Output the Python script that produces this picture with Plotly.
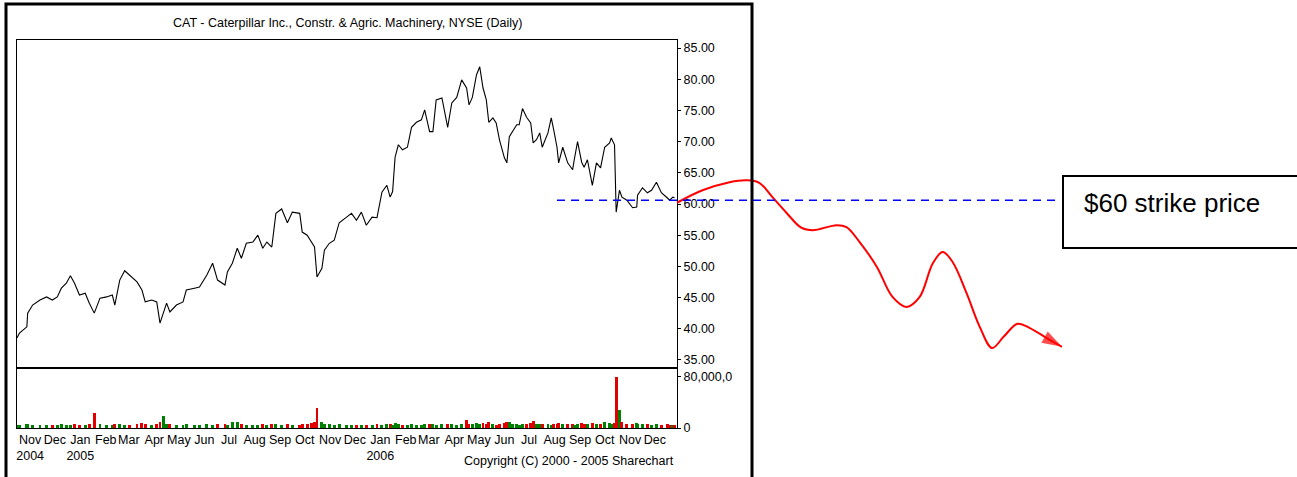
import pandas as pd
import plotly.graph_objects as go

# ---------------- data ----------------
TITLE = "CAT - Caterpillar Inc., Constr. & Agric. Machinery, NYSE (Daily)"
COPYRIGHT = "Copyright (C) 2000 - 2005 Sharechart"
STRIKE_LABEL = "$60 strike price"

dates = [
    "2004-10-26", "2004-10-29", "2004-11-07", "2004-11-08", "2004-11-14", "2004-11-23", "2004-12-01", "2004-12-08", "2004-12-14", "2004-12-19",
    "2004-12-25", "2004-12-30", "2005-01-04", "2005-01-10", "2005-01-17", "2005-01-22", "2005-01-28", "2005-02-04", "2005-02-12", "2005-02-19",
    "2005-02-22", "2005-02-28", "2005-03-06", "2005-03-12", "2005-03-21", "2005-03-27", "2005-03-31", "2005-04-08", "2005-04-14", "2005-04-18",
    "2005-04-22", "2005-04-26", "2005-04-30", "2005-05-08", "2005-05-16", "2005-05-20", "2005-05-30", "2005-06-05", "2005-06-14", "2005-06-21",
    "2005-06-27", "2005-07-06", "2005-07-09", "2005-07-15", "2005-07-21", "2005-07-26", "2005-08-01", "2005-08-09", "2005-08-15", "2005-08-21",
    "2005-08-26", "2005-09-01", "2005-09-06", "2005-09-13", "2005-09-20", "2005-09-26", "2005-10-05", "2005-10-08", "2005-10-14", "2005-10-19",
    "2005-10-23", "2005-10-26", "2005-11-01", "2005-11-04", "2005-11-10", "2005-11-16", "2005-11-22", "2005-12-01", "2005-12-07", "2005-12-13",
    "2005-12-19", "2005-12-25", "2006-01-01", "2006-01-07", "2006-01-13", "2006-01-19", "2006-01-23", "2006-01-26", "2006-01-29", "2006-02-02",
    "2006-02-07", "2006-02-13", "2006-02-18", "2006-02-24", "2006-03-02", "2006-03-06", "2006-03-12", "2006-03-16", "2006-03-20", "2006-03-27",
    "2006-04-03", "2006-04-08", "2006-04-14", "2006-04-20", "2006-04-26", "2006-04-29", "2006-05-03", "2006-05-08", "2006-05-12", "2006-05-16",
    "2006-05-20", "2006-05-23", "2006-05-28", "2006-06-01", "2006-06-05", "2006-06-11", "2006-06-14", "2006-06-17", "2006-06-21", "2006-06-26",
    "2006-06-29", "2006-07-03", "2006-07-08", "2006-07-13", "2006-07-16", "2006-07-20", "2006-07-24", "2006-07-27", "2006-08-03", "2006-08-07",
    "2006-08-10", "2006-08-14", "2006-08-16", "2006-08-21", "2006-08-27", "2006-09-02", "2006-09-04", "2006-09-08", "2006-09-13", "2006-09-16",
    "2006-09-20", "2006-09-26", "2006-10-01", "2006-10-06", "2006-10-11", "2006-10-17", "2006-10-19", "2006-10-23", "2006-10-25", "2006-10-29",
    "2006-11-01", "2006-11-07", "2006-11-14", "2006-11-19", "2006-11-20", "2006-11-26", "2006-12-02", "2006-12-07", "2006-12-13", "2006-12-19",
    "2006-12-26", "2006-12-29", "2007-01-02", "2007-01-04",
]

close = [
    38.5, 39.3, 40.3, 42.5, 43.8, 44.6, 45.1, 44.6, 45.1, 46.5,
    47.3, 48.5, 47.3, 45.4, 45.7, 44.1, 42.5, 44.9, 45.1, 45.4,
    43.8, 47.8, 49.3, 48.6, 47.5, 46.2, 44.3, 44.6, 44.3, 40.9,
    42.5, 44.1, 42.7, 43.8, 44.3, 46.2, 46.5, 46.7, 48.6, 50.5,
    47.8, 47.0, 49.1, 50.5, 52.9, 51.3, 53.7, 53.9, 55.0, 52.9,
    53.9, 53.1, 58.5, 59.2, 57.0, 58.7, 58.5, 55.5, 55.0, 53.9,
    53.1, 48.3, 49.7, 52.6, 53.7, 54.2, 57.0, 57.9, 58.5, 57.4,
    58.7, 56.6, 57.9, 57.8, 61.9, 63.0, 61.1, 62.0, 67.5, 69.5,
    68.7, 69.1, 72.3, 73.1, 73.5, 75.1, 71.6, 71.6, 76.7, 77.0,
    72.3, 76.2, 77.1, 79.9, 78.6, 75.9, 77.1, 80.7, 82.0, 78.6,
    76.7, 73.1, 73.8, 73.0, 70.3, 67.4, 66.6, 70.8, 71.6, 72.7,
    72.7, 75.3, 73.9, 73.0, 69.8, 70.3, 71.4, 69.1, 71.4, 73.8,
    71.9, 69.1, 66.6, 69.1, 66.6, 65.5, 67.1, 70.0, 66.7, 65.9,
    67.1, 63.0, 66.6, 65.8, 69.1, 69.8, 70.6, 69.5, 58.7, 62.2,
    61.1, 60.6, 59.4, 59.5, 61.4, 62.6, 61.8, 62.2, 63.5, 61.8,
    61.0, 60.6, 61.1, 61.0,
]

volume_m = [
    4, 5, 6, 7, 5, 4, 5, 4, 5, 6,
    4, 5, 6, 5, 4, 6, 23, 6, 5, 4,
    6, 7, 5, 4, 6, 8, 7, 5, 6, 9,
    19, 7, 6, 5, 4, 6, 5, 4, 6, 5,
    6, 7, 5, 9, 10, 6, 5, 4, 5, 6,
    5, 6, 7, 5, 6, 4, 5, 6, 7, 8,
    9, 31, 10, 7, 6, 5, 6, 5, 4, 5,
    4, 5, 4, 6, 5, 7, 6, 5, 8, 7,
    5, 4, 6, 5, 5, 6, 7, 6, 5, 6,
    7, 6, 5, 6, 12, 7, 6, 8, 7, 8,
    7, 9, 6, 5, 7, 8, 10, 9, 7, 6,
    5, 6, 7, 8, 11, 7, 6, 7, 6, 5,
    6, 7, 8, 6, 7, 6, 5, 7, 8, 6,
    7, 8, 6, 7, 9, 8, 7, 8, 80, 28,
    9, 7, 6, 8, 7, 6, 7, 5, 6, 5,
    6, 5, 4, 5,
]

# hand-drawn projected path (red) continuing after the last close
proj_dates = [
    "2007-01-07", "2007-02-07", "2007-03-12", "2007-04-02", "2007-04-17", "2007-05-03", "2007-05-20",
    "2007-06-07", "2007-06-21", "2007-07-20", "2007-08-01", "2007-08-17", "2007-09-07", "2007-09-26",
    "2007-10-13", "2007-10-29", "2007-11-14", "2007-11-26", "2007-12-08", "2007-12-25", "2008-01-10",
    "2008-01-25", "2008-02-08", "2008-02-25", "2008-03-11", "2008-04-04", "2008-04-19",
]
proj_price = [
    60.2, 62.2, 63.5, 63.8, 63.4, 61.1, 58.6,
    56.2, 55.8, 56.6, 56.3, 53.9, 49.9, 45.1,
    43.5, 45.1, 50.5, 52.3, 50.7, 45.7, 40.3,
    36.9, 38.7, 40.8, 40.1, 38.2, 37.1,
]

strike_level = 60.6

price_tickvals = [35, 40, 45, 50, 55, 60, 65, 70, 75, 80, 85]
price_ticktext = ["35.00", "40.00", "45.00", "50.00", "55.00", "60.00", "65.00", "70.00", "75.00", "80.00", "85.00"]
vol_tickvals = [0, 80]
vol_ticktext = ["0", "80,000,0"]

month_starts = [
    "2004-11-01", "2004-12-01", "2005-01-01", "2005-02-01", "2005-03-01", "2005-04-01", "2005-05-01",
    "2005-06-01", "2005-07-01", "2005-08-01", "2005-09-01", "2005-10-01", "2005-11-01", "2005-12-01",
    "2006-01-01", "2006-02-01", "2006-03-01", "2006-04-01", "2006-05-01", "2006-06-01", "2006-07-01",
    "2006-08-01", "2006-09-01", "2006-10-01", "2006-11-01", "2006-12-01",
]
month_labels = [
    "Nov<br>2004", "Dec", "Jan<br>2005", "Feb", "Mar", "Apr", "May",
    "Jun", "Jul", "Aug", "Sep", "Oct", "Nov", "Dec",
    "Jan<br>2006", "Feb", "Mar", "Apr", "May", "Jun", "Jul",
    "Aug", "Sep", "Oct", "Nov", "Dec",
]

# ---------------- geometry / styling ----------------
W, H = 1297, 477
ML, MR, MT, MB = 17, 0, 40, 49
PW, PH = W - ML - MR, H - MT - MB


def fx(px):
    return (px - ML) / PW


def fy(py):
    return (H - MB - py) / PH


FONT = "Liberation Sans, Arial, sans-serif"
split = fy(368)

label_pos = pd.to_datetime(month_starts) + pd.Timedelta(days=10)

bar_colors = ["#008000"] + [
    "#e00000" if close[i] < close[i - 1] else "#008000" for i in range(1, len(close))
]

fig = go.Figure()

fig.add_trace(go.Scatter(
    x=dates, y=close, mode="lines", xaxis="x", yaxis="y",
    line=dict(color="black", width=1.1), hoverinfo="skip", showlegend=False,
))

fig.add_trace(go.Bar(
    x=dates, y=volume_m, xaxis="x2", yaxis="y2",
    marker=dict(color=bar_colors, line=dict(width=0)),
    width=3.5 * 86400000, hoverinfo="skip", showlegend=False,
))

n = len(proj_price)
fig.add_trace(go.Scatter(
    x=proj_dates, y=proj_price, mode="lines+markers", xaxis="x3", yaxis="y",
    line=dict(color="#ff0000", width=2, shape="spline", smoothing=1.0),
    marker=dict(symbol="arrow", angleref="previous", size=[0] * (n - 1) + [21],
                color="#ff0000", line=dict(width=0)),
    cliponaxis=False, hoverinfo="skip", showlegend=False,
))

x_range = ["2004-10-26", "2007-01-07"]
axis_common = dict(showgrid=False, zeroline=False, showline=True, linecolor="black",
                   linewidth=1, mirror=True)

fig.update_layout(
    width=W, height=H,
    margin=dict(l=ML, r=MR, t=MT, b=MB, pad=0),
    paper_bgcolor="white", plot_bgcolor="white",
    font=dict(family=FONT, size=12, color="black"),
    bargap=0,
    xaxis=dict(domain=[0, fx(677)], anchor="y", type="date", range=x_range,
               showticklabels=False, ticks="", **axis_common),
    yaxis=dict(domain=[split, 1], anchor="x", side="right", range=[33.7, 86.3],
               tickmode="array", tickvals=price_tickvals, ticktext=price_ticktext,
               ticks="outside", ticklen=3, tickcolor="black",
               tickfont=dict(family=FONT, size=12.5), **axis_common),
    xaxis2=dict(domain=[0, fx(677)], anchor="y2", type="date", range=x_range,
                tickmode="array", tickvals=label_pos, ticktext=month_labels,
                tickangle=0, ticks="", tickfont=dict(family=FONT, size=12.5), **axis_common),
    yaxis2=dict(domain=[0, split], anchor="x2", side="right", range=[0, 94],
                tickmode="array", tickvals=vol_tickvals, ticktext=vol_ticktext,
                ticks="outside", ticklen=3, tickcolor="black",
                tickfont=dict(family=FONT, size=12.5), **axis_common),
    xaxis3=dict(domain=[fx(677), fx(1062)], anchor="y", type="date",
                range=["2007-01-07", "2008-04-19"], visible=False),
)

fig.add_annotation(text=TITLE, xref="paper", yref="paper", x=fx(347), y=fy(23),
                   showarrow=False, font=dict(family=FONT, size=12.5), xanchor="center", yanchor="middle")
fig.add_annotation(text=COPYRIGHT, xref="paper", yref="paper", x=fx(676), y=fy(461),
                   showarrow=False, font=dict(family=FONT, size=12.5), xanchor="right", yanchor="middle")
fig.add_annotation(text=STRIKE_LABEL, xref="paper", yref="paper", x=fx(1082), y=fy(203),
                   showarrow=False, font=dict(family=FONT, size=26), xanchor="left", yanchor="middle")

# outer frame of the chart image
fig.add_shape(type="rect", xref="paper", yref="paper", x0=fx(6), x1=fx(752), y0=fy(495), y1=fy(4),
              line=dict(color="black", width=3), fillcolor="rgba(0,0,0,0)", layer="above")
# strike price box
fig.add_shape(type="rect", xref="paper", yref="paper", x0=fx(1063), x1=fx(1310), y0=fy(248), y1=fy(176),
              line=dict(color="black", width=2), fillcolor="rgba(0,0,0,0)", layer="above")
# strike price level
fig.add_shape(type="line", xref="paper", yref="y", x0=fx(557), x1=fx(1060), y0=strike_level, y1=strike_level,
              line=dict(color="#0000ff", width=1.6, dash="8px,6px"), layer="above")

fig.write_html("out.html", config={"displayModeBar": False},
               post_script="document.body.style.margin='0px';document.body.style.overflow='hidden';")
